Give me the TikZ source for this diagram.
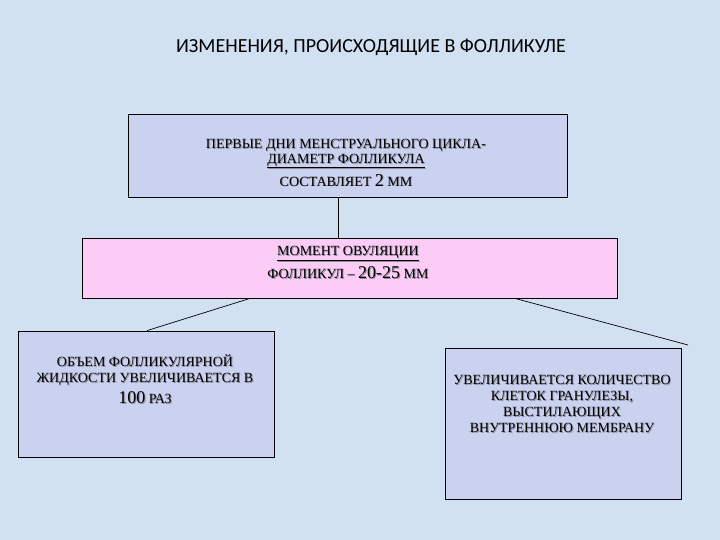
\documentclass[tikz,border=0pt]{standalone}
\usepackage{fontspec}
\setmainfont{Liberation Serif}
\newfontfamily\titlefont{Carlito}
\definecolor{bgc}{RGB}{210,225,242}
\definecolor{boxc}{RGB}{202,210,240}
\definecolor{pinkc}{RGB}{252,204,246}
\definecolor{shadc}{RGB}{140,140,155}
\newcommand{\sh}[1]{\makebox[0pt][l]{\kern0.9pt\raisebox{-0.9pt}{\textcolor{shadc}{#1}}}#1}
\newcommand{\bgn}[1]{{\fontsize{18}{16}\selectfont #1}}
\begin{document}
\begin{tikzpicture}[x=1pt,y=-1pt,
  panel/.style={draw=black, line width=0.8pt, inner sep=0pt},
  label/.style={align=center, inner sep=0pt, text=black, font=\fontsize{14}{16}\selectfont},
  conn/.style={draw=black, line width=0.7pt}]
\fill[bgc] (0,0) rectangle (720,540);
\useasboundingbox (0,0) rectangle (720,540);
\node[align=center, inner sep=0pt, font=\titlefont\fontsize{20}{22}\selectfont] (title) at (371,47) {ИЗМЕНЕНИЯ, ПРОИСХОДЯЩИЕ В ФОЛЛИКУЛЕ};
\node[panel, fill=boxc, minimum width=439, minimum height=83] (b1) at (347.5,155.5) {};
\node[panel, fill=pinkc, minimum width=535, minimum height=60] (b2) at (349.5,268) {};
\node[panel, fill=boxc, minimum width=256, minimum height=126] (b3) at (146,394) {};
\node[panel, fill=boxc, minimum width=236, minimum height=151] (b4) at (563,423.5) {};
\node[label] (t1) at (346,163) {\sh{ПЕРВЫЕ ДНИ МЕНСТРУАЛЬНОГО ЦИКЛА-}\\[-1pt]\sh{\underline{ДИАМЕТР ФОЛЛИКУЛА}}\\[4pt]\sh{СОСТАВЛЯЕТ \bgn{2} ММ}};
\node[label] (t2) at (348,263) {\sh{\underline{МОМЕНТ ОВУЛЯЦИИ}}\\[4pt]\sh{ФОЛЛИКУЛ – \bgn{20-25} ММ}};
\node[label] (t3) at (145,380) {\sh{ОБЪЕМ ФОЛЛИКУЛЯРНОЙ}\\\sh{ЖИДКОСТИ УВЕЛИЧИВАЕТСЯ В}\\[5pt]\sh{\bgn{100} РАЗ}};
\node[label] (t4) at (562,404) {\sh{УВЕЛИЧИВАЕТСЯ КОЛИЧЕСТВО}\\\sh{КЛЕТОК ГРАНУЛЕЗЫ,}\\\sh{ВЫСТИЛАЮЩИХ}\\\sh{ВНУТРЕННЮЮ МЕМБРАНУ}};
\coordinate (v) at (338,0);
\coordinate (la) at (250,0);
\coordinate (lb) at (147,0);
\coordinate (ra) at (515,0);
\coordinate (rend) at (688,345);
\draw[conn] (b1.south -| v) -- (b2.north -| v);
\draw[conn] (b2.south -| la) -- (b3.north -| lb);
\draw[conn] (b2.south -| ra) -- (rend);
\end{tikzpicture}
\end{document}
